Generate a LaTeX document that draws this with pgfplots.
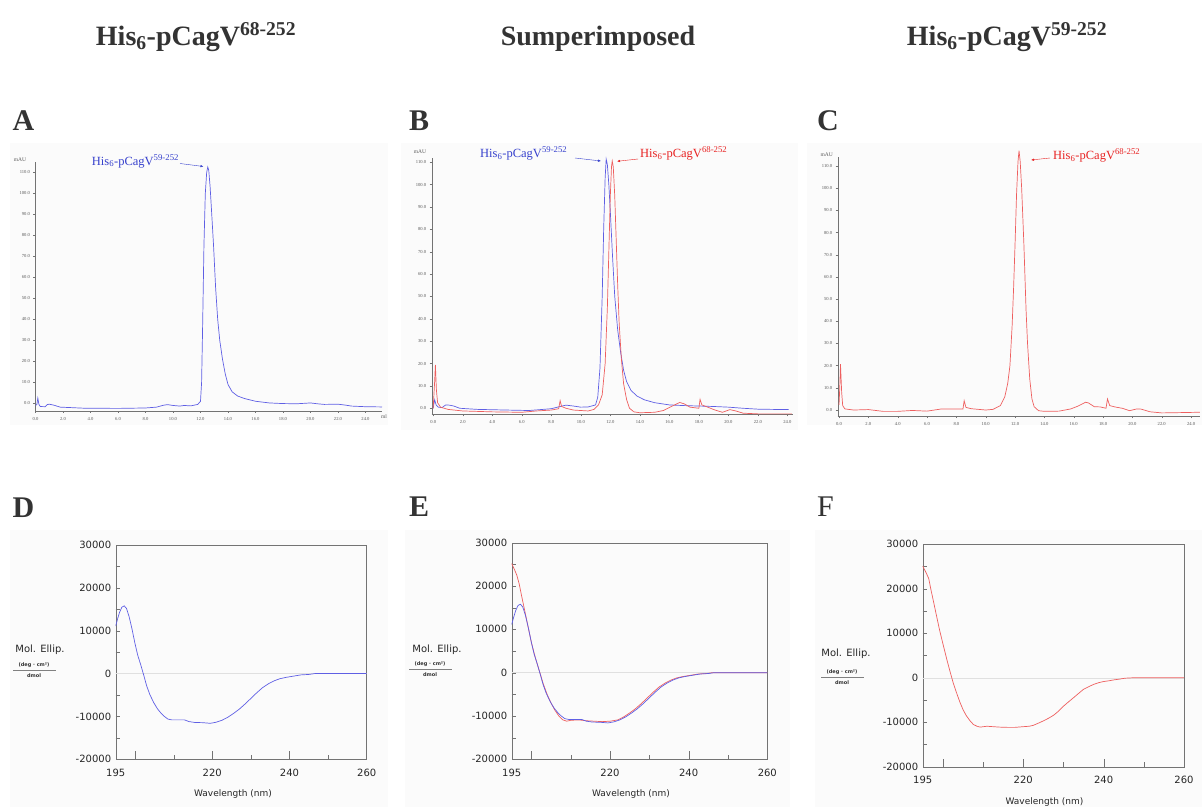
\documentclass[border=0pt]{standalone}
\usepackage{pgfplots}
\pgfplotsset{compat=1.18}
\usepackage{fontspec}
\setmainfont{Liberation Serif}
\newfontfamily\dv{DejaVu Sans}
\usetikzlibrary{arrows.meta}
\definecolor{cBlue}{RGB}{95,95,228}
\definecolor{cRed}{RGB}{238,95,95}
\definecolor{tBlue}{RGB}{55,65,205}
\definecolor{tRed}{RGB}{232,35,35}
\definecolor{bgPanel}{RGB}{251,251,251}

% chromatogram axes (px = pt)
\pgfplotsset{
  chrom/.style={scale only axis, axis lines=left, axis line style={-, draw=black!55},
    tick style={draw=black!55, thin}, tick align=outside, major tick length=2pt,
    xtick={0,2,...,24}, xticklabels={0.0,2.0,4.0,6.0,8.0,10.0,12.0,14.0,16.0,18.0,20.0,22.0,24.0},
    ytick={0,10,...,110}, yticklabels={0.0,10.0,20.0,30.0,40.0,50.0,60.0,70.0,80.0,90.0,100.0,110.0},
    tick label style={font=\fontsize{4.6}{5}\selectfont, text=black!65},
    xticklabel style={yshift=-1pt}, clip=false},
  cd/.style={scale only axis, xmin=195, xmax=260, ymin=-20000, ymax=30000,
    scaled y ticks=false, scaled x ticks=false,
    axis line style={draw=black!55}, xtick pos=bottom, ytick pos=left,
    xtick={195,220,240,260}, xticklabels={195,220,240,260},
    ytick={-20000,-10000,0,10000,20000,30000},
    yticklabels={-20000,-10000,0,10000,20000,30000},
    major tick length=0pt, minor tick length=4.5pt,
    minor xtick={210,230,250}, minor ytick={-15000,-10000,...,25000},
    minor tick style={draw=black!55},
    extra x ticks={200,220,240}, extra x tick labels={},
    extra x tick style={major tick length=8pt, tick style={draw=black!55}},
    tick label style={font=\dv\fontsize{10}{10}\selectfont, text=black!85},
    xticklabel style={yshift=-6pt}, yticklabel style={xshift=-1pt}},
}

\newcommand{\his}[1]{His\textsubscript{6}-pCagV\textsuperscript{#1}}

\begin{document}
\begin{tikzpicture}
\useasboundingbox (0pt,0pt) rectangle (1202pt,-807pt);
\fill[white] (0pt,0pt) rectangle (1202pt,-807pt);
% faint panel backgrounds
\fill[bgPanel] (10pt,-143pt) rectangle (388pt,-425pt);
\fill[bgPanel] (401pt,-143pt) rectangle (798pt,-430pt);
\fill[bgPanel] (807pt,-143pt) rectangle (1202pt,-425pt);
\fill[bgPanel] (10pt,-530pt) rectangle (388pt,-807pt);
\fill[bgPanel] (405pt,-530pt) rectangle (790pt,-807pt);
\fill[bgPanel] (815pt,-530pt) rectangle (1202pt,-807pt);

% column titles
\begin{scope}[font=\bfseries\fontsize{28}{30}\selectfont, text=black!80]
\node[anchor=base] at (196pt,-45pt) {\his{68-252}};
\node[anchor=base] at (598pt,-45pt) {Sumperimposed};
\node[anchor=base] at (1007pt,-45pt) {\his{59-252}};
\end{scope}

% panel letters
\begin{scope}[font=\bfseries\fontsize{30}{30}\selectfont, text=black!80]
\node[anchor=base west, inner sep=0pt] at (12.5pt,-130pt) {A};
\node[anchor=base west, inner sep=0pt] at (409pt,-130pt) {B};
\node[anchor=base west, inner sep=0pt] at (817pt,-130.5pt) {C};
\node[anchor=base west, inner sep=0pt] at (12.5pt,-517pt) {D};
\node[anchor=base west, inner sep=0pt] at (409pt,-516.5pt) {E};
\end{scope}
\node[anchor=base west, inner sep=0pt, font=\fontsize{30}{30}\selectfont, text=black!80] at (817pt,-516pt) {F};

% ---------- A ----------
\begin{axis}[chrom, at={(35.5pt,-410.7pt)}, anchor=south west,
  width=346.5pt, height=248.9pt, xmin=0, xmax=25.2, ymin=-3.5, ymax=115]
\addplot[cBlue, line width=0.7pt] coordinates {
(0,-1)(0.1,-0.5)(0.17,2.5)(0.25,-0.5)(0.35,-1.5)(0.7,-1.6)(0.85,-0.6)(1.0,-0.4)(1.3,-0.8)
(1.8,-1.8)(2.5,-2.0)(3.5,-2.3)(6,-2.4)(8,-2.2)(8.8,-1.8)(9.3,-0.9)(9.6,-0.6)(10,-1.0)
(10.5,-1.3)(10.8,-1.0)(11.3,-1.2)(11.8,-0.5)(12.0,1)(12.08,10)(12.15,35)(12.25,75)
(12.35,100)(12.45,110)(12.53,112.5)(12.6,111)(12.7,103)(12.8,92)(12.95,75)(13.1,55)
(13.25,40)(13.4,30)(13.6,21)(13.8,14)(14.0,9)(14.3,5.5)(14.7,3.5)(15.2,2.3)(16,1.0)
(17,0.2)(18,-0.1)(19,-0.2)(19.5,0)(20,0.2)(20.5,-0.2)(21,-0.5)(22,-0.4)(22.5,-0.8)
(23,-1.3)(24,-1.6)(25.2,-1.7)};
\end{axis}
\node[font=\fontsize{5.5}{6}\selectfont, text=black!65] at (20pt,-160pt) {mAU};
\node[font=\fontsize{5.5}{6}\selectfont, text=black!65] at (384pt,-417pt) {ml};
\node[anchor=base west, inner sep=0pt, text=tBlue, font=\fontsize{12.5}{13}\selectfont] at (91.7pt,-165pt) {\his{59-252}};
\draw[tBlue, thin, -{Latex[length=3pt,width=2.4pt]}] (180pt,-163.5pt) -- (203.5pt,-166.5pt);

% ---------- B ----------
\begin{axis}[chrom, at={(431.7pt,-414.3pt)}, anchor=south west,
  width=361.5pt, height=256.5pt, xmin=-0.1, xmax=24.39, ymin=-2.7, ymax=112]
\addplot[cBlue, line width=0.7pt] coordinates {
(0,0)(0.05,2)(0.1,3.8)(0.2,1.5)(0.35,0.5)(0.6,0.3)(0.85,1.5)(1.1,1.4)(1.4,1.0)(1.8,0)
(3,-0.5)(5,-0.8)(6.5,-1.0)(8,-0.2)(8.6,0.8)(9.0,1.4)(9.5,1.0)(10.0,0.5)(10.5,0.6)
(11.0,1.5)(11.15,5)(11.3,18)(11.45,50)(11.55,80)(11.65,103)(11.72,111.4)(11.8,109)
(11.9,100)(12.0,88)(12.15,68)(12.3,50)(12.5,35)(12.7,25)(12.9,17)(13.1,12)(13.4,8)
(13.8,5.5)(14.3,3.8)(15,2.5)(16,1.5)(17,1.2)(18,1.0)(19,0.8)(20,0.5)(21,0)(22,-0.4)
(23,-0.5)(24.1,-0.6)};
\addplot[cRed, line width=0.7pt] coordinates {
(0,0)(0.1,12)(0.15,19.4)(0.22,8)(0.3,2.5)(0.5,0.5)(1,-0.5)(2,-1.2)(4,-1.6)(6,-1.8)
(7,-1.2)(8,-0.8)(8.5,-0.2)(8.6,3.4)(8.7,0.8)(9.0,0)(9.5,-0.8)(10.5,-1.2)(10.9,-0.5)
(11.2,1.5)(11.45,6)(11.65,20)(11.8,45)(11.9,70)(12.0,95)(12.08,108)(12.13,110.6)
(12.2,108)(12.3,95)(12.4,75)(12.5,55)(12.6,38)(12.75,22)(12.9,11)(13.1,4)(13.3,0)
(13.6,-1.6)(14,-2.0)(15,-1.8)(15.6,-1)(16.2,1)(16.7,2.6)(17.0,2)(17.4,0.5)(18.0,0)
(18.08,4)(18.2,1.5)(18.6,0.5)(19.1,-0.8)(19.6,-1.8)(20.1,-0.6)(20.5,-1.2)(21,-2.2)
(22,-2.5)(24.3,-2.5)};
\end{axis}
\node[font=\fontsize{5.5}{6}\selectfont, text=black!65] at (420pt,-151.7pt) {mAU};
\node[anchor=base west, inner sep=0pt, text=tBlue, font=\fontsize{12.5}{13}\selectfont] at (480pt,-157.3pt) {\his{59-252}};
\draw[tBlue, thin, -{Latex[length=3pt,width=2.4pt]}] (575pt,-158pt) -- (601pt,-161pt);
\node[anchor=base west, inner sep=0pt, text=tRed, font=\fontsize{12.5}{13}\selectfont] at (640pt,-157.3pt) {\his{68-252}};
\draw[tRed, thin, -{Latex[length=3pt,width=2.4pt]}] (638pt,-159pt) -- (617pt,-161.3pt);

% ---------- C ----------
\begin{axis}[chrom, at={(837.7pt,-416pt)}, anchor=south west,
  width=362.2pt, height=258.8pt, xmin=-0.09, xmax=24.6, ymin=-2.7, ymax=114]
\addplot[cRed, line width=0.7pt] coordinates {
(0,2.3)(0.05,10)(0.1,20.7)(0.18,8)(0.25,2)(0.4,0.5)(1,0)(2,0.2)(3,-0.6)(4,-0.6)(5,-0.2)
(6,-0.5)(7,0.5)(8,0.5)(8.45,0.5)(8.53,4.2)(8.65,1.2)(9,0.6)(9.5,0.3)(10,0)(10.5,0.3)
(11.0,2)(11.3,6)(11.5,12)(11.65,20)(11.8,38)(11.9,55)(12.0,75)(12.1,97)(12.2,112)
(12.27,117)(12.35,112)(12.45,100)(12.6,75)(12.75,45)(12.85,30)(13.0,14)(13.15,5)
(13.3,1.5)(13.6,-0.3)(14,-0.6)(15,-0.5)(15.8,0.5)(16.3,1.8)(16.8,3.5)(17.0,3.2)
(17.4,1.5)(17.8,1.4)(18.2,0.8)(18.3,5)(18.45,2)(18.8,1.4)(19.3,0.8)(19.8,-0.3)
(20.3,0.5)(20.6,0.4)(21.2,-0.8)(22,-1.3)(23,-1.2)(24.6,-1)};
\end{axis}
\node[font=\fontsize{5.5}{6}\selectfont, text=black!65] at (826.7pt,-154.3pt) {mAU};
\node[anchor=base west, inner sep=0pt, text=tRed, font=\fontsize{12.5}{13}\selectfont] at (1053pt,-159.3pt) {\his{68-252}};
\draw[tRed, thin, -{Latex[length=3pt,width=2.4pt]}] (1050pt,-158pt) -- (1031pt,-160pt);

% ---------- D ----------
\begin{axis}[cd, at={(115.7pt,-759.3pt)}, anchor=south west, width=251pt, height=214.3pt]
\draw[black!12] (axis cs:195,0) -- (axis cs:260,0);
\addplot[cBlue, line width=0.7pt] coordinates {
(195,11100)(195.5,12800)(196,14300)(196.6,15500)(197.2,15800)(197.8,15200)(198.5,13200)
(199.2,10500)(200,7000)(200.7,4300)(201.5,2000)(202.3,-500)(203,-2800)(203.8,-4800)
(204.8,-6700)(205.8,-8200)(206.7,-9200)(207.6,-10000)(208.5,-10600)(209.5,-10800)
(211,-10800)(212.8,-10800)(214,-11200)(215.5,-11400)(217.5,-11450)(219.5,-11600)
(221,-11350)(222.5,-10900)(224,-10200)(225.5,-9300)(227,-8300)(228.5,-7100)(230,-5800)
(231.5,-4500)(233,-3300)(234.5,-2400)(236,-1700)(237.5,-1200)(239,-900)(241,-600)
(243,-300)(245,-200)(246.5,0)(260,0)};
\end{axis}
\node[font=\dv\fontsize{10}{10}\selectfont, text=black!85] at (40pt,-650pt) {Mol. Ellip.};
\node[font=\dv\bfseries\fontsize{5}{5}\selectfont, text=black!80] at (34pt,-665pt) {(deg · cm²)};
\draw[black!50, line width=0.4pt] (13pt,-670.5pt) -- (56pt,-670.5pt);
\node[font=\dv\bfseries\fontsize{5}{5}\selectfont, text=black!80] at (34pt,-676pt) {dmol};
\node[font=\dv\fontsize{9}{9}\selectfont, text=black!85] at (233pt,-794pt) {Wavelength (nm)};

% ---------- E ----------
\begin{axis}[cd, at={(511.7pt,-759.3pt)}, anchor=south west, width=255.6pt, height=216.6pt]
\draw[black!12] (axis cs:195,0) -- (axis cs:260,0);
\addplot[cRed, line width=0.7pt] coordinates {
(195,25200)(195.7,23800)(196.3,22500)(196.9,20500)(197.5,17800)(198.2,14800)(199,11300)
(200,7000)(201,3500)(202,500)(203,-2500)(204,-5000)(205,-7000)(206,-8700)(207,-10000)
(208,-10900)(209,-11200)(210,-11000)(212,-10900)(214,-11100)(216,-11200)(218,-11300)
(220,-11200)(222,-10900)(223.5,-10200)(225,-9300)(226.5,-8300)(228,-7100)(229.5,-5800)
(231,-4500)(232.5,-3300)(234,-2400)(235.5,-1700)(237,-1200)(238.5,-900)(240.5,-600)
(242.5,-300)(244.5,-200)(246,0)(260,0)};
\addplot[cBlue, line width=0.7pt] coordinates {
(195,11100)(195.5,12800)(196,14300)(196.6,15500)(197.2,15800)(197.8,15200)(198.5,13200)
(199.2,10500)(200,7000)(200.7,4300)(201.5,2000)(202.3,-500)(203,-2800)(203.8,-4800)
(204.8,-6700)(205.8,-8200)(206.7,-9200)(207.6,-10000)(208.5,-10600)(209.5,-10800)
(211,-10800)(212.8,-10800)(214,-11200)(215.5,-11400)(217.5,-11450)(219.5,-11600)
(221,-11350)(222.5,-10900)(224,-10200)(225.5,-9300)(227,-8300)(228.5,-7100)(230,-5800)
(231.5,-4500)(233,-3300)(234.5,-2400)(236,-1700)(237.5,-1200)(239,-900)(241,-600)
(243,-300)(245,-200)(246.5,0)(260,0)};
\end{axis}
\node[font=\dv\fontsize{10}{10}\selectfont, text=black!85] at (437pt,-649.3pt) {Mol. Ellip.};
\node[font=\dv\bfseries\fontsize{5}{5}\selectfont, text=black!80] at (430pt,-664pt) {(deg · cm²)};
\draw[black!50, line width=0.4pt] (409pt,-669.5pt) -- (452pt,-669.5pt);
\node[font=\dv\bfseries\fontsize{5}{5}\selectfont, text=black!80] at (430pt,-675pt) {dmol};
\node[font=\dv\fontsize{9}{9}\selectfont, text=black!85] at (631pt,-794pt) {Wavelength (nm)};

% ---------- F ----------
\begin{axis}[cd, at={(922.7pt,-766.7pt)}, anchor=south west, width=261.3pt, height=222.4pt]
\draw[black!12] (axis cs:195,0) -- (axis cs:260,0);
\addplot[cRed, line width=0.7pt] coordinates {
(195,25100)(195.8,23700)(196.5,22300)(197,20000)(197.6,17500)(198.3,14500)(199.2,10700)
(200.2,7000)(201,4100)(201.8,1400)(202.6,-1200)(203.5,-3600)(204.3,-5600)(205.1,-7300)
(205.9,-8600)(206.8,-9700)(207.6,-10500)(208.5,-10900)(209.3,-11100)(210.1,-11000)
(211,-10900)(212.5,-11000)(214.2,-11100)(216,-11150)(218,-11150)(220,-11000)
(221.5,-10900)(222.5,-10700)(223.8,-10200)(225,-9700)(226.3,-9100)(227.6,-8400)
(228.8,-7500)(230,-6400)(231.3,-5400)(232.5,-4500)(233.8,-3500)(235,-2600)(236.3,-2000)
(237.5,-1500)(238.8,-1100)(240,-850)(241.2,-700)(242.4,-500)(244,-300)(245.3,-100)
(247.4,0)(260,0)};
\end{axis}
\node[font=\dv\fontsize{10}{10}\selectfont, text=black!85] at (846pt,-653.3pt) {Mol. Ellip.};
\node[font=\dv\bfseries\fontsize{5}{5}\selectfont, text=black!80] at (842pt,-672pt) {(deg · cm²)};
\draw[black!50, line width=0.4pt] (821pt,-677.5pt) -- (864pt,-677.5pt);
\node[font=\dv\bfseries\fontsize{5}{5}\selectfont, text=black!80] at (842pt,-683pt) {dmol};
\node[font=\dv\fontsize{9}{9}\selectfont, text=black!85] at (1044.5pt,-801.7pt) {Wavelength (nm)};
\end{tikzpicture}
\end{document}
